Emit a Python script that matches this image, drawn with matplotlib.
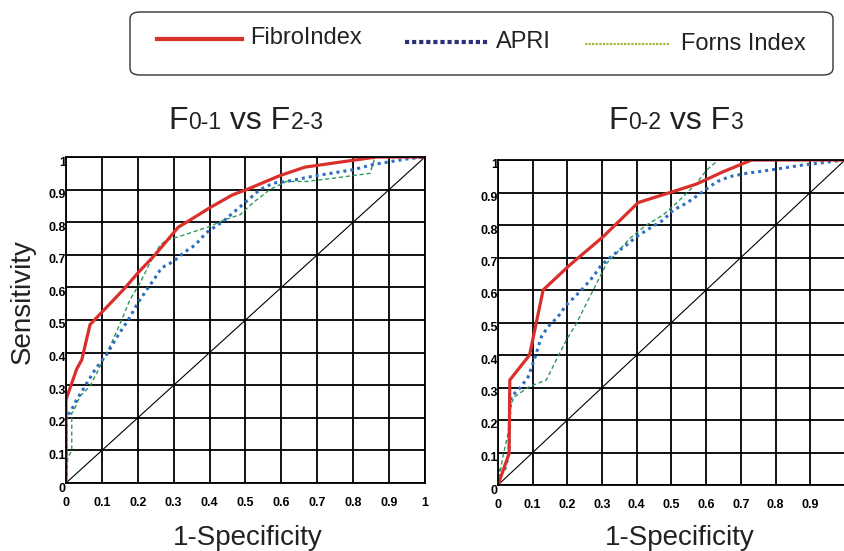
import matplotlib
matplotlib.use("Agg")
import matplotlib.pyplot as plt
import matplotlib.transforms as mtransforms
from matplotlib.patches import FancyBboxPatch
from matplotlib.lines import Line2D

plt.rcParams['font.family'] = ['Liberation Sans', 'DejaVu Sans']

# ---------------- data ----------------
series_names = ["FibroIndex", "APRI", "Forns Index"]
ticks = [0, 0.1, 0.2, 0.3, 0.4, 0.5, 0.6, 0.7, 0.8, 0.9, 1]
tick_labels = ["0", "0.1", "0.2", "0.3", "0.4", "0.5", "0.6", "0.7", "0.8", "0.9", "1"]

# Panel 1: F0-1 vs F2-3
p1_fibro_x = [0, 0, 0.03, 0.044, 0.067, 0.164, 0.20, 0.248, 0.313, 0.336, 0.40, 0.464, 0.503, 0.596, 0.666, 0.698, 0.80, 0.865, 1.0]
p1_fibro_y = [0, 0.256, 0.35, 0.378, 0.486, 0.598, 0.644, 0.70, 0.785, 0.80, 0.844, 0.884, 0.90, 0.943, 0.969, 0.974, 0.99, 1.0, 1.0]
p1_apri_x = [0, 0, 0.011, 0.03, 0.053, 0.081, 0.113, 0.146, 0.174, 0.20, 0.225, 0.248, 0.266, 0.30, 0.327, 0.36, 0.39, 0.438, 0.475, 0.508, 0.54, 0.578, 0.614, 0.698, 0.80, 0.856, 0.91, 0.95, 1.0]
p1_apri_y = [0, 0.21, 0.215, 0.256, 0.297, 0.348, 0.394, 0.455, 0.501, 0.552, 0.593, 0.629, 0.66, 0.68, 0.706, 0.73, 0.767, 0.803, 0.838, 0.869, 0.90, 0.92, 0.925, 0.943, 0.961, 0.977, 0.987, 0.994, 1.0]
p1_forns_x = [0, 0.005, 0.016, 0.016, 0.021, 0.039, 0.067, 0.095, 0.127, 0.155, 0.178, 0.206, 0.234, 0.262, 0.28, 0.318, 0.40, 0.443, 0.485, 0.52, 0.568, 0.614, 0.67, 0.745, 0.847, 0.861, 1.0]
p1_forns_y = [0, 0.08, 0.097, 0.215, 0.22, 0.266, 0.297, 0.358, 0.43, 0.50, 0.562, 0.613, 0.675, 0.73, 0.745, 0.757, 0.787, 0.808, 0.823, 0.859, 0.90, 0.925, 0.925, 0.935, 0.95, 1.0, 1.0]

# Panel 2: F0-2 vs F3
p2_fibro_x = [0, 0.032, 0.034, 0.091, 0.13, 0.207, 0.303, 0.404, 0.505, 0.572, 0.649, 0.731, 1.0]
p2_fibro_y = [0, 0.097, 0.323, 0.40, 0.60, 0.677, 0.764, 0.869, 0.903, 0.926, 0.964, 1.0, 1.0]
p2_apri_x = [0, 0, 0.01, 0.02, 0.032, 0.034, 0.038, 0.0625, 0.087, 0.106, 0.125, 0.144, 0.173, 0.197, 0.221, 0.245, 0.274, 0.298, 0.332, 0.37, 0.399, 0.4375, 0.476, 0.505, 0.543, 0.591, 0.63, 0.668, 0.716, 0.784, 0.88, 0.9375, 1.0]
p2_apri_y = [0, 0.046, 0.046, 0.05, 0.097, 0.23, 0.272, 0.297, 0.333, 0.39, 0.456, 0.487, 0.518, 0.554, 0.579, 0.605, 0.641, 0.677, 0.708, 0.738, 0.764, 0.79, 0.815, 0.846, 0.867, 0.903, 0.933, 0.949, 0.959, 0.969, 0.985, 0.992, 1.0]
p2_forns_x = [0, 0.014, 0.029, 0.038, 0.048, 0.091, 0.139, 0.168, 0.197, 0.226, 0.255, 0.284, 0.313, 0.341, 0.38, 0.428, 0.476, 0.514, 0.572, 0.601, 0.635, 1.0]
p2_forns_y = [0, 0.087, 0.159, 0.251, 0.272, 0.303, 0.323, 0.385, 0.446, 0.497, 0.559, 0.62, 0.682, 0.713, 0.759, 0.80, 0.831, 0.867, 0.928, 0.969, 1.0, 1.0]

# ---------------- style ----------------
RED = "#D9302C"
BLUE = "#2F6FC0"
GREEN = "#2E9A5A"
NAVY = "#2B2F7A"
OLIVE = "#A6B43A"

W, H = 845, 551
fig = plt.figure(figsize=(W / 100, H / 100), dpi=100)


def fx(px):
    return px / W


def fy(py):
    return 1 - py / H


def make_axes(x0, x1, ytop, ybot, xlabels):
    ax = fig.add_axes([fx(x0), fy(ybot), fx(x1 - x0), (ybot - ytop) / H])
    ax.set_xlim(0, 1)
    ax.set_ylim(0, 1)
    ax.set_xticks(ticks)
    ax.set_yticks(ticks)
    ax.set_xticklabels(xlabels, fontsize=9, fontweight='bold')
    ax.set_yticklabels(tick_labels, fontsize=9, fontweight='bold')
    ax.tick_params(axis='both', length=0)
    ax.tick_params(axis='x', pad=10)
    ax.tick_params(axis='y', pad=0)
    off = mtransforms.ScaledTranslation(0, -0.04, fig.dpi_scale_trans)
    for lab in ax.get_yticklabels():
        lab.set_transform(lab.get_transform() + off)
    ax.grid(True, color='black', lw=1.3)
    ax.set_axisbelow(True)
    for sp in ax.spines.values():
        sp.set_color('black')
        sp.set_linewidth(1.3)
    ax.plot([0, 1], [0, 1], color='black', lw=0.8)
    return ax


def draw_series(ax, fx_, fy_, ax_, ay_, gx_, gy_):
    ax.plot(gx_, gy_, color=GREEN, lw=1.0, dashes=(3, 2))
    ax.plot(ax_, ay_, color=BLUE, lw=2.2, linestyle=(0, (1, 1.3)))
    ax.plot(fx_, fy_, color=RED, lw=2.3, solid_joinstyle='miter')


xl1 = tick_labels
xl2 = tick_labels[:-1] + [""]
ax1 = make_axes(66, 425, 157, 483, xl1)
draw_series(ax1, p1_fibro_x, p1_fibro_y, p1_apri_x, p1_apri_y, p1_forns_x, p1_forns_y)
ax2 = make_axes(498, 845, 160, 485, xl2)
draw_series(ax2, p2_fibro_x, p2_fibro_y, p2_apri_x, p2_apri_y, p2_forns_x, p2_forns_y)

# axis labels
fig.text(fx(23), fy(302), "Sensitivity", rotation=90, ha='center', va='center', fontsize=20, color='#222222')
fig.text(fx(248), fy(545), "1-Specificity", ha='center', va='baseline', fontsize=20, color='#222222')
fig.text(fx(680), fy(545), "1-Specificity", ha='center', va='baseline', fontsize=20, color='#222222')

# titles with smaller index parts
renderer = fig.canvas.get_renderer()


def mixed_title(xc, ybase, parts):
    objs = []
    total = 0
    for s, size in parts:
        t = fig.text(0, fy(ybase), s, fontsize=size, ha='left', va='baseline', color='#222222')
        w = t.get_window_extent(renderer).width
        objs.append((t, w))
        total += w
    x = xc - total / 2
    for t, w in objs:
        t.set_x(fx(x))
        x += w


mixed_title(246, 129, [("F", 23), ("0-1", 16.5), (" vs F", 23), ("2-3", 16.5)])
mixed_title(676, 129, [("F", 23), ("0-2", 16.5), (" vs F", 23), ("3", 16.5)])

# legend box
box = FancyBboxPatch((fx(130), fy(75)), fx(703), (75 - 12) / H,
                     boxstyle="round,pad=0,rounding_size=0.012",
                     transform=fig.transFigure, facecolor='white', edgecolor='#333333', lw=1.0)
fig.patches.append(box)
fig.add_artist(Line2D([fx(157), fx(242)], [fy(39), fy(39)], color=RED, lw=3.0, transform=fig.transFigure))
fig.add_artist(Line2D([fx(405), fx(489)], [fy(42), fy(42)], color=NAVY, lw=3.0, linestyle=(0, (1, 0.7)), transform=fig.transFigure))
fig.add_artist(Line2D([fx(585), fx(670)], [fy(44), fy(44)], color=OLIVE, lw=1.6, linestyle=(0, (1, 0.6)), transform=fig.transFigure))
fig.text(fx(250), fy(38), series_names[0], fontsize=17, ha='left', va='center', color='#222222')
fig.text(fx(496), fy(42), series_names[1], fontsize=17, ha='left', va='center', color='#222222')
fig.text(fx(681), fy(44), series_names[2], fontsize=17, ha='left', va='center', color='#222222')

fig.savefig("out.png", dpi=100)
